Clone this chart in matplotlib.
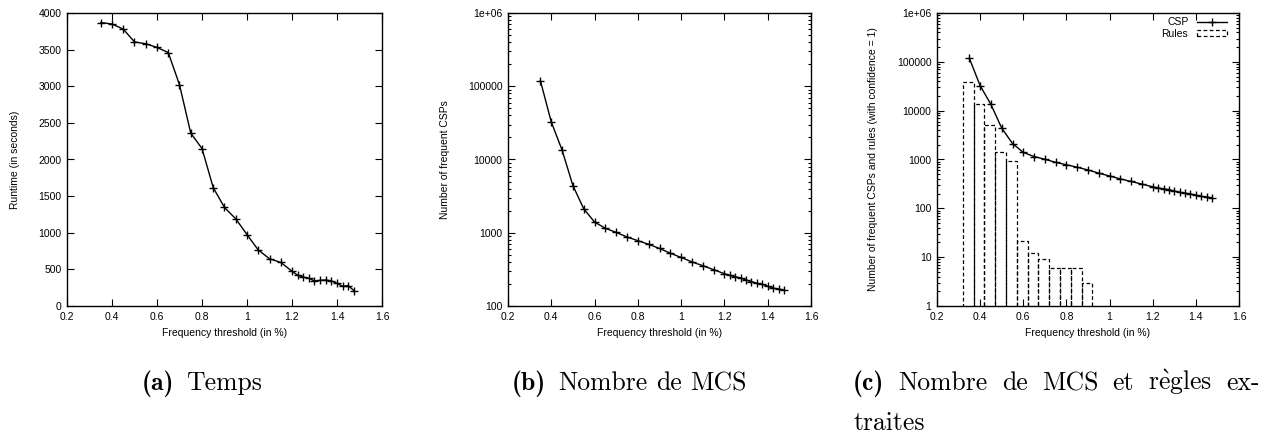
import matplotlib
matplotlib.use('Agg')
from matplotlib import pyplot as plt
from matplotlib.lines import Line2D
from matplotlib.patches import Rectangle
from matplotlib.ticker import FixedLocator, FuncFormatter, LogLocator, NullFormatter

# frequency thresholds (in %) and measurements
thresholds = [0.35, 0.40, 0.45, 0.50, 0.55, 0.60, 0.65, 0.70, 0.75, 0.80,
              0.85, 0.90, 0.95, 1.00, 1.05, 1.10, 1.15, 1.20, 1.225, 1.25,
              1.275, 1.30, 1.325, 1.35, 1.375, 1.40, 1.425, 1.45, 1.475]
runtime = [3870, 3850, 3780, 3605, 3580, 3530, 3460, 3020, 2360, 2150,
           1615, 1345, 1190, 975, 765, 645, 595, 475, 420, 395,
           378, 342, 350, 355, 342, 310, 268, 278, 210]
n_csp = [118000, 32500, 13400, 4400, 2120, 1400, 1150, 1010, 875, 780,
         695, 610, 525, 460, 400, 355, 313, 276, 262, 251,
         241, 226, 215, 204, 197, 187, 175, 171, 163]
# rules with confidence = 1 (boxes)
rule_thresholds = [0.345, 0.395, 0.445, 0.495, 0.545, 0.595, 0.645, 0.695,
                   0.745, 0.795, 0.845, 0.895]
n_rules = [39000, 14000, 5000, 1400, 940, 21, 12, 9, 6, 6, 6, 3]

xlabel = 'Frequency threshold (in %)'
ylabels = ['Runtime (in seconds)', 'Number of frequent CSPs',
           'Number of frequent CSPs and rules (with confidence = 1)']
# the grave accent is drawn through mathtext, cmr10 has no "è"
captions = [('(a)', ['Temps']),
            ('(b)', ['Nombre', 'de', 'MCS']),
            ('(c)', ['Nombre', 'de', 'MCS', 'et', r'r$\mathrm{\grave{e}}$gles', 'ex-'])]
caption_tail = 'traites'

W, H = 1277, 436
fig = plt.figure(figsize=(W / 100, H / 100), dpi=100)
sans = ['Liberation Sans', 'DejaVu Sans']
plt.rcParams['font.family'] = sans
plt.rcParams['mathtext.fontset'] = 'cm'


def add_ax(left, right, top=13, bottom=306):
    return fig.add_axes([left / W, 1 - bottom / H, (right - left) / W, (bottom - top) / H])


def style(ax):
    ax.tick_params(which='both', direction='in', top=True, right=True,
                   labelsize=7.5, width=0.8, pad=4)
    ax.tick_params(which='major', length=5)
    ax.tick_params(which='minor', length=2.5)
    for s in ax.spines.values():
        s.set_linewidth(1.0)
    ax.set_xlim(0.2, 1.6)
    ax.xaxis.set_major_locator(FixedLocator([0.2, 0.4, 0.6, 0.8, 1.0, 1.2, 1.4, 1.6]))
    ax.xaxis.set_major_formatter(FuncFormatter(lambda v, p: ('%g' % round(v, 2))))


def log_y(ax, lo, hi):
    ax.set_yscale('log')
    ax.set_ylim(lo, hi)
    ax.yaxis.set_major_locator(LogLocator(base=10, numticks=20))
    ax.yaxis.set_minor_locator(LogLocator(base=10, subs=range(2, 10), numticks=20))
    ax.yaxis.set_minor_formatter(NullFormatter())
    ax.yaxis.set_major_formatter(FuncFormatter(lambda v, p: '1e+06' if v >= 1e6 else '%d' % round(v)))


line_kw = dict(color='black', lw=1.0, marker='+', ms=6, mew=1.0)
dash = (0, (3, 2))

# (a) runtime
ax1 = add_ax(67, 382)
style(ax1)
ax1.plot(thresholds, runtime, **line_kw)
ax1.set_ylim(0, 4000)
ax1.yaxis.set_major_locator(FixedLocator(range(0, 4001, 500)))

# (b) number of frequent CSPs
ax2 = add_ax(508, 811)
style(ax2)
log_y(ax2, 100, 1e6)
ax2.plot(thresholds, n_csp, **line_kw)

# (c) CSPs and rules
ax3 = add_ax(937, 1239)
style(ax3)
log_y(ax3, 1, 1e6)
ax3.bar(rule_thresholds, n_rules, width=0.05, fill=False, edgecolor='black',
        linestyle=dash, linewidth=0.9, zorder=2)
ax3.plot(thresholds, n_csp, zorder=3, **line_kw)
handles = [Line2D([], [], **line_kw),
           Rectangle((0, 0), 1, 1, fill=False, edgecolor='black', linestyle=dash, linewidth=0.9)]
ax3.legend(handles, ['CSP', 'Rules'], loc='upper right', frameon=False, markerfirst=False,
           fontsize=7.5, handlelength=2.9, handleheight=0.55, labelspacing=0.15,
           handletextpad=0.8, borderaxespad=0.0, borderpad=0.2,
           bbox_to_anchor=(1 - 10 / 302, 1 - 2 / 293))

# axis labels
for ax, yl, ylx in zip([ax1, ax2, ax3], ylabels, [15, 445, 873]):
    pos = ax.get_position()
    fig.text(pos.x0 + pos.width / 2, 1 - 333 / H, xlabel, ha='center', va='center', fontsize=7.5)
    fig.text(ylx / W, 1 - 159.5 / H, yl, ha='center', va='center', rotation=90, fontsize=7.5)

# captions below the panels
renderer = fig.canvas.get_renderer()
cap_size = 18.5
rm = ['cmr10', 'DejaVu Serif']
bf = ['cmb10', 'DejaVu Serif']


def put_words(label, words, x0, baseline, x1=None, label_gap=12):
    t = fig.text(x0 / W, 1 - baseline / H, label, family=bf, fontsize=cap_size, va='baseline')
    x = x0 + t.get_window_extent(renderer).width + label_gap
    texts = [fig.text(0, 1 - baseline / H, w, family=rm, fontsize=cap_size, va='baseline') for w in words]
    widths = [tt.get_window_extent(renderer).width for tt in texts]
    gap = 8.5
    if x1 is not None and len(words) > 1:
        gap = (x1 - x - sum(widths)) / (len(words) - 1)
    for tt, w in zip(texts, widths):
        tt.set_x(x / W)
        x += w + gap


put_words(captions[0][0], captions[0][1], 142, 390)
put_words(captions[1][0], captions[1][1], 512, 390)
put_words(captions[2][0], captions[2][1], 853, 390, x1=1260, label_gap=14)
fig.text(853 / W, 1 - 430 / H, caption_tail, family=rm, fontsize=cap_size, va='baseline')

fig.savefig('out.png', dpi=100)
